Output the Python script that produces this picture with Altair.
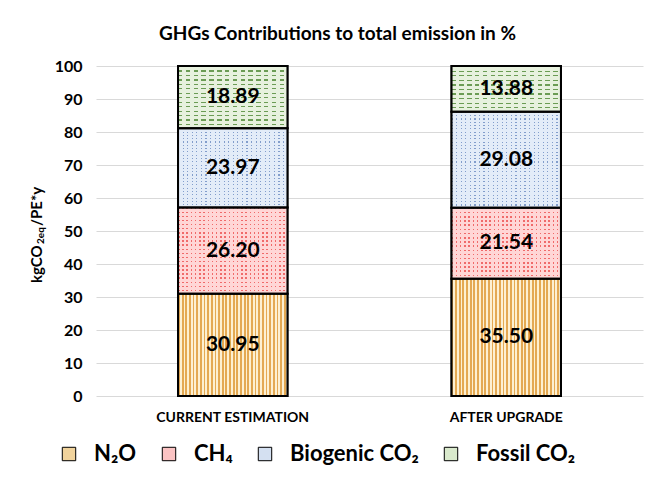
import altair as alt
import pandas as pd

scenarios = ["CURRENT ESTIMATION", "AFTER UPGRADE"]
gases = ["N₂O", "CH₄", "Biogenic CO₂", "Fossil CO₂"]
current = [30.95, 26.20, 23.97, 18.89]
upgrade = [35.50, 21.54, 29.08, 13.88]
legend_colors = ["#f1d39c", "#fbc3c3", "#d4e0f1", "#d9e9cc"]
y_ticks = list(range(0, 101, 10))
ytitle_parts = ["kgCO", "2eq", "/PE*y"]

rows = []
for s, vals in zip(scenarios, [current, upgrade]):
    cum = 0.0
    for i, (g, v) in enumerate(zip(gases, vals)):
        rows.append(dict(scenario=s, gas=g, value=v, order=i,
                         start=cum, end=min(cum + v, 100.0), mid=cum + v / 2))
        cum += v
df = pd.DataFrame(rows)

FONT = "Lato"
PLOT_W, PLOT_H = 547, 330
BAR_W = 109.4
CLEAR = "rgba(255,255,255,0)"

# ---- texture definitions (style only): per gas
# (background, ink, column period px, ink width px, row period px, ink height px)
texture = {
    gases[1]: ("#ffd6d6", "#f06a6a", 4.2, 1.5, 4.2, 1.5),
    gases[2]: ("#e3ecf8", "#829dcb", 4.6, 1.2, 3.3, 1.1),
    gases[3]: ("#e7f1de", "#6b9c54", 8.0, 4.5, 4.4, 1.2),
}


def grad(n, frac, c_ink, c_bg, horizontal):
    stops = []
    for k in range(n):
        a = k / n
        b = (k + frac) / n
        c = (k + 1) / n
        stops += [alt.GradientStop(offset=a, color=c_ink),
                  alt.GradientStop(offset=b, color=c_ink),
                  alt.GradientStop(offset=b, color=c_bg),
                  alt.GradientStop(offset=c, color=c_bg)]
    if horizontal:
        return alt.LinearGradient(gradient="linear", stops=stops, x1=0, x2=1, y1=0, y2=0)
    return alt.LinearGradient(gradient="linear", stops=stops, x1=0, x2=0, y1=0, y2=1)


# N2O vertical stripes
stripe = grad(30, 0.5, "#e4a953", "#fdf0d2", True)

y_axis = alt.Axis(values=y_ticks, grid=True, gridColor="#d9d9d9",
                  domain=False, ticks=False, labelPadding=14,
                  labelFontSize=16, labelFont=FONT, labelFontWeight="bold",
                  labelColor="black", title="")
x_enc = alt.X("scenario:N", sort=scenarios,
              scale=alt.Scale(paddingInner=0.6, paddingOuter=0.3),
              axis=alt.Axis(title="", labelAngle=0, ticks=False, domain=False,
                            labelPadding=14, labelFontSize=14, labelFont=FONT,
                            labelFontWeight="bold", labelColor="black"))
y_enc = alt.Y("start:Q", scale=alt.Scale(domain=[0, 100]), axis=y_axis)

base = alt.Chart(df)

layers = []
bars = base.mark_bar(stroke="black", strokeWidth=2).encode(
    x=x_enc, y=y_enc, y2="end:Q",
    fill=alt.Fill("gas:N", scale=alt.Scale(domain=gases, range=legend_colors),
                  legend=alt.Legend(orient="none", legendX=-38, legendY=377,
                                    direction="horizontal", title=None,
                                    symbolType="square", symbolSize=180,
                                    symbolStrokeColor="black", symbolStrokeWidth=1,
                                    labelFontSize=22, labelFont=FONT,
                                    labelFontWeight="bold", labelColor="black",
                                    columnPadding=21, labelOffset=14)),
)
layers.append(bars)

layers.append(base.transform_filter(alt.datum.gas == gases[0]).mark_bar(
    fill=stripe, strokeWidth=0).encode(x=x_enc, y=y_enc, y2="end:Q"))

for g, (bg, ink, cper, cw, rper, rh) in texture.items():
    ncol = max(1, round(BAR_W / cper))
    layers.append(base.transform_filter(alt.datum.gas == g).mark_bar(
        fill=grad(ncol, cw / cper, ink, bg, True), strokeWidth=0).encode(
        x=x_enc, y=y_enc, y2="end:Q"))
    for r in df[df.gas == g].itertuples():
        hpx = r.value * PLOT_H / 100.0
        nrow = max(1, round(hpx / rper))
        layers.append(base.transform_filter(
            (alt.datum.gas == g) & (alt.datum.scenario == r.scenario)).mark_bar(
            fill=grad(nrow, rh / rper, CLEAR, bg, False), strokeWidth=0).encode(
            x=x_enc, y=y_enc, y2="end:Q"))

layers.append(base.mark_bar(fillOpacity=0, stroke="black", strokeWidth=2).encode(
    x=x_enc, y=y_enc, y2="end:Q"))

layers.append(base.mark_text(fontSize=21, fontWeight="bold", font=FONT, color="black").encode(
    x=x_enc, y=alt.Y("mid:Q", axis=y_axis), text=alt.Text("value:Q", format=".2f")))

# y-axis title with subscript
tdf = pd.DataFrame({"t": ytitle_parts, "k": [0, 1, 2]})
tt = alt.Chart(tdf)
layers.append(tt.transform_filter(alt.datum.k == 0).mark_text(
    angle=270, align="left", baseline="middle", fontSize=15, font=FONT,
    fontWeight="bold", color="black").encode(
    x=alt.value(-59), y=alt.value(217), text="t:N"))
layers.append(tt.transform_filter(alt.datum.k == 1).mark_text(
    angle=270, align="left", baseline="middle", fontSize=10, font=FONT,
    fontWeight="bold", color="black", dx=39, dy=4).encode(
    x=alt.value(-59), y=alt.value(217), text="t:N"))
layers.append(tt.transform_filter(alt.datum.k == 2).mark_text(
    angle=270, align="left", baseline="middle", fontSize=15, font=FONT,
    fontWeight="bold", color="black", dx=57).encode(
    x=alt.value(-59), y=alt.value(217), text="t:N"))

chart = alt.layer(*layers).properties(
    width=PLOT_W, height=PLOT_H,
    title=alt.TitleParams("GHGs Contributions to total emission in %", fontSize=19,
                          font=FONT, fontWeight="bold", dx=-32, offset=14,
                          color="black"),
    autosize=alt.AutoSizeParams(type="none"),
    padding={"left": 88, "top": 58, "right": 6, "bottom": 79},
).configure_view(stroke=None)

chart.save("out.html", embed_options={"renderer": "svg", "actions": False})
